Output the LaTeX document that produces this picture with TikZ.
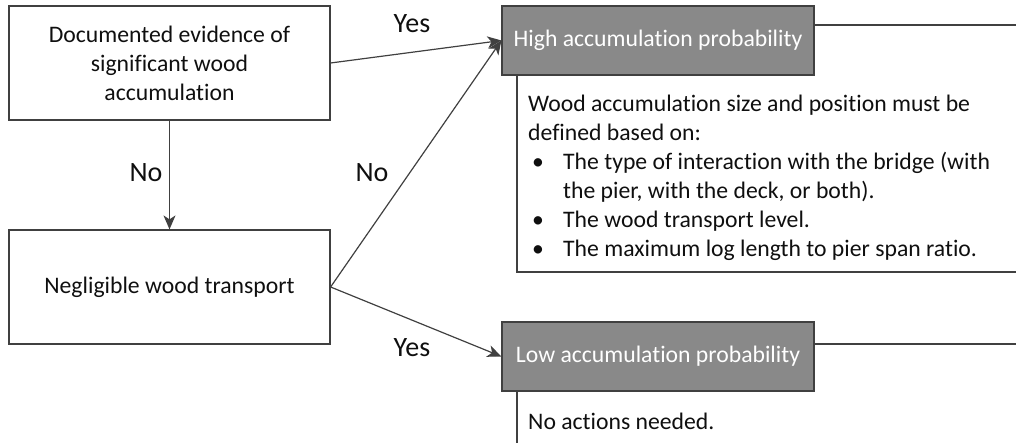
\documentclass[tikz,border=0pt]{standalone}
\usepackage{fontspec}
\setmainfont[Ligatures=NoCommon]{Carlito}
\usetikzlibrary{arrows.meta, positioning}
\definecolor{linecolor}{RGB}{64,64,64}
\definecolor{headercolor}{RGB}{137,137,137}
\definecolor{textcolor}{RGB}{15,15,15}

\begin{document}
\begin{tikzpicture}[
    x=1pt, y=1pt,
    every node/.style={font=\fontsize{23.7}{29}\selectfont, text=textcolor},
    decisionbox/.style={rectangle, draw=linecolor, line width=1.2pt,
        minimum width=321pt, minimum height=114pt, align=center, inner sep=0pt},
    headerbox/.style={rectangle, draw=linecolor, line width=1.2pt, fill=headercolor,
        minimum width=312pt, minimum height=69pt, text=white, inner sep=0pt},
    framebox/.style={draw=linecolor, line width=1.2pt},
    arrow/.style={-{Stealth[length=14pt, width=12pt, inset=4pt]}, line width=1.2pt, linecolor},
    answer/.style={anchor=base, inner sep=0pt, font=\fontsize{28}{32}\selectfont},
    listtext/.style={anchor=north west, align=left, inner sep=0pt},
]

\clip (0,0) rectangle (1016,443);

% === DECISIONS (Left) ===
\node[decisionbox] (evidence) at (169.5,380) {Documented evidence of\\significant wood\\accumulation};
\node[decisionbox] (transport) at (169.5,156) {Negligible wood transport};

% === OUTCOMES (Right) ===
% frames first, the headers cover their corners
\draw[framebox] (1030,418) -| (517,171) -- (1030,171);
\draw[framebox] (1030,99) -| (517,-20);

\node[headerbox] (high) at (658,402.5) {High accumulation probability};
\node[headerbox] (low) at (658,86.5) {Low accumulation probability};

% list under high probability
\node[listtext] (highlist) at (528,348) {
    Wood accumulation size and position must be\\
    defined based on:\\
    \hspace*{4pt}\makebox[31pt][l]{\textbullet}The type of interaction with the bridge (with\\
    \hspace*{35pt}the pier, with the deck, or both).\\
    \hspace*{4pt}\makebox[31pt][l]{\textbullet}The wood transport level.\\
    \hspace*{4pt}\makebox[31pt][l]{\textbullet}The maximum log length to pier span ratio.
};

\node[anchor=base west, inner sep=0pt] (lowlist) at (528,13) {No actions needed.};

% === ARROWS ===
\draw[arrow] (evidence) -- (transport);
\draw[arrow] (evidence.east) -- (high.west);
\draw[arrow] (transport.east) -- (high.west);
\draw[arrow] (transport.east) -- (low.west);

% answers
\node[answer] (yestop) at (412,410) {Yes};
\node[answer] (nodown) at (146,261) {No};
\node[answer] (nodiag) at (372,261) {No};
\node[answer] (yesbottom) at (412,86) {Yes};

\end{tikzpicture}
\end{document}
